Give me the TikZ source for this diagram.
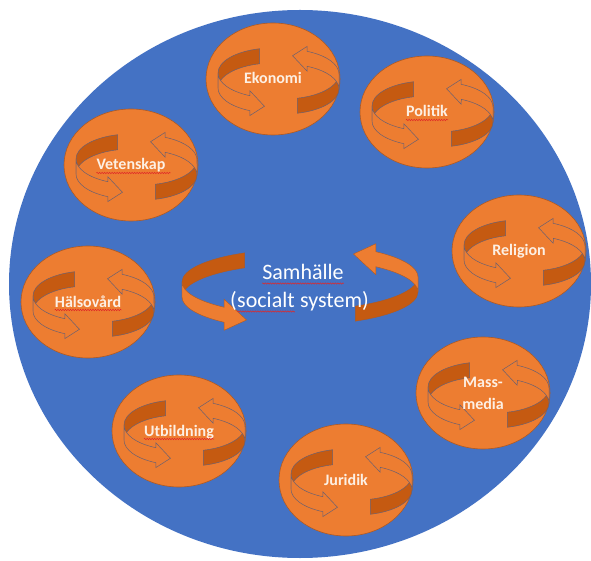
\documentclass[tikz,border=0pt]{standalone}
\usepackage{fontspec}
\setmainfont{Carlito}
\usetikzlibrary{shapes.geometric,decorations.pathmorphing}
\definecolor{bluebg}{HTML}{4472C4}
\definecolor{orng}{HTML}{ED7D31}
\definecolor{orngdark}{HTML}{C55A11}
\definecolor{orngline}{HTML}{AE5A24}
\definecolor{arrline}{HTML}{6B6070}
\definecolor{labeltext}{HTML}{FDF0E4}
\definecolor{wavyred}{HTML}{E02828}
\tikzset{
  orb/.style={ellipse, fill=orng, draw=orngline, line width=0.6pt,
    minimum width=134pt, minimum height=112pt, inner sep=0pt},
  lbl/.style={text=labeltext, font=\bfseries\fontsize{16}{22}\selectfont,
    inner sep=0pt, align=center},
  ctext/.style={text=white, font=\fontsize{22}{27}\selectfont, inner sep=0pt},
  wavy/.style={draw=wavyred, line width=0.5pt, decorate,
    decoration={snake, amplitude=0.7pt, segment length=2.5pt}},
  backface/.style={fill=orngdark, draw=arrline, line width=0.5pt},
  frontface/.style={fill=orng, draw=arrline, line width=0.5pt},
  cback/.style={fill=orngdark, draw=orngline, line width=0.4pt},
  cfront/.style={fill=orng, draw=orngline, line width=0.4pt},
  smallarr/.pic={
    \foreach \rot/\dx/\dy in {0/0/0,180/11/-4}{
      \begin{scope}[shift={(\dx,\dy)},rotate=\rot]
        \path[backface] (-13.3,30.26)
          arc[start angle=104,end angle=180,x radius=55pt,y radius=25pt]
          -- (-55,-9)
          arc[start angle=180,end angle=104,x radius=55pt,y radius=25pt]
          -- cycle;
        \path[frontface] (-55,6)
          arc[start angle=180,end angle=245,x radius=55pt,y radius=25pt]
          -- (-23.24,-11.66) -- (-8.57,-27.27) -- (-23.24,-36.66)
          -- (-23.24,-31.66)
          arc[start angle=245,end angle=180,x radius=55pt,y radius=25pt]
          -- cycle;
      \end{scope}}
  },
  bigarr/.pic={
    \foreach \rot in {0,180}{
      \begin{scope}[rotate=\rot]
        \path[cback] (-55.40,34.14)
          arc[start angle=118,end angle=180,x radius=118pt,y radius=33pt]
          -- (-118,-10)
          arc[start angle=180,end angle=118,x radius=118pt,y radius=33pt]
          -- cycle;
        \path[cfront] (-118,5)
          arc[start angle=180,end angle=230,x radius=118pt,y radius=33pt]
          -- (-75.85,-12.28) -- (-53.45,-33.0) -- (-75.85,-43.28)
          -- (-75.85,-35.28)
          arc[start angle=230,end angle=180,x radius=118pt,y radius=33pt]
          -- cycle;
      \end{scope}}
  }
}
\begin{document}
\begin{tikzpicture}[x=1pt,y=1pt]
\useasboundingbox (0,0) rectangle (591,560);
% society
\node[ellipse, fill=bluebg, minimum width=582pt, minimum height=548pt, inner sep=0pt] (bg) at (300,276) {};
% subsystems
\node[orb] (eko) at (273,481) {};
\node[orb] (pol) at (427,448) {};
\node[orb] (vet) at (131,395) {};
\node[orb] (rel) at (519,309) {};
\node[orb] (hal) at (88,258) {};
\node[orb] (mas) at (483,167) {};
\node[orb] (utb) at (179,129) {};
\node[orb] (jur) at (346,80) {};
\foreach \n in {eko,pol,vet,rel,hal,mas,utb,jur}{
  \pic at (\n.center) {smallarr};
}
\node[lbl, anchor=base] (ekoL) at ([yshift=-5pt]eko.center) {Ekonomi};
\node[lbl, anchor=base] (polL) at ([yshift=-5pt]pol.center) {Politik};
\node[lbl, anchor=base] (vetL) at ([yshift=-5pt]vet.center) {Vetenskap};
\node[lbl, anchor=base] (relL) at ([yshift=-5pt]rel.center) {Religion};
\node[lbl, anchor=base] (halL) at ([yshift=-5pt]hal.center) {Hälsovård};
\node[lbl] (masL) at (mas.center) {Mass-\\media};
\node[lbl, anchor=base] (utbL) at ([yshift=-5pt]utb.center) {Utbildning};
\node[lbl, anchor=base] (jurL) at ([yshift=-5pt]jur.center) {Juridik};
\draw[wavy] ([yshift=-3pt]polL.base west) -- ([yshift=-3pt]polL.base east);
\draw[wavy] ([yshift=-3pt]vetL.base west) -- ([xshift=5pt,yshift=-3pt]vetL.base east);
\draw[wavy] ([yshift=-3pt]halL.base west) -- ([yshift=-3pt]halL.base east);
\draw[wavy] ([yshift=-3pt]utbL.base west) -- ([yshift=-3pt]utbL.base east);
% central society arrows and text
\coordinate (mid) at (300,273);
\pic at (mid) {bigarr};
\node[ctext, anchor=base] (sam) at (303,280) {Samhälle};
\node[ctext, anchor=base] (soc) at (266,252) {socialt};
\node[ctext, anchor=base east] (lpar) at (soc.base west) {(};
\node[ctext, anchor=base west] (sys) at (soc.base east) {\ system)};
\draw[wavy] ([yshift=-3.5pt]sam.base west) -- ([yshift=-3.5pt]sam.base east);
\draw[wavy] ([yshift=-3.5pt]soc.base west) -- ([yshift=-3.5pt]soc.base east);
\end{tikzpicture}
\end{document}
